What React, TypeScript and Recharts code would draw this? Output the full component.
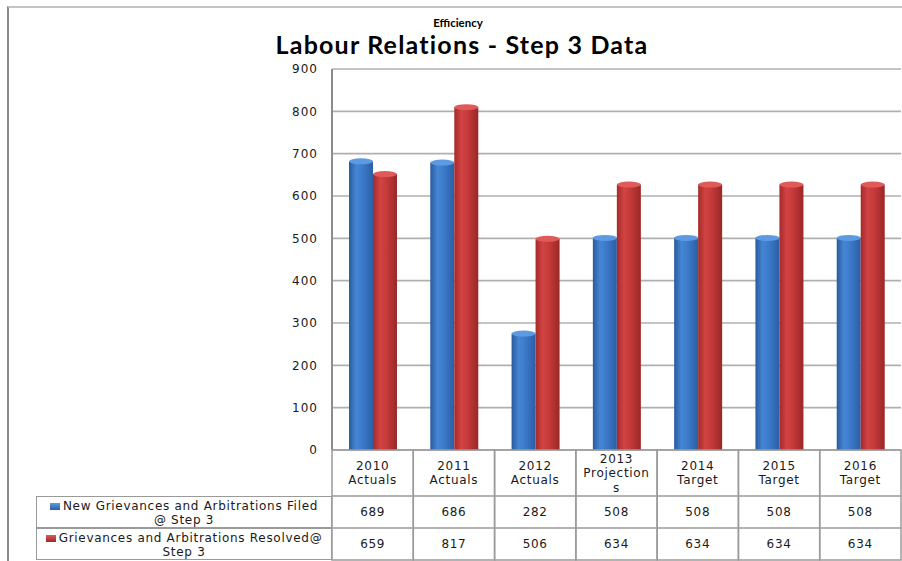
import { Bar, BarChart, CartesianGrid, XAxis, YAxis } from "recharts";

const categories = ["2010 Actuals", "2011 Actuals", "2012 Actuals", "2013 Projections", "2014 Target", "2015 Target", "2016 Target"];
const filed = [689, 686, 282, 508, 508, 508, 508];
const resolved = [659, 817, 506, 634, 634, 634, 634];
const seriesLines = [
  ["New Grievances and Arbitrations Filed", "@ Step 3"],
  ["Grievances and Arbitrations Resolved@", "Step 3"],
];
const yTicks = [0, 100, 200, 300, 400, 500, 600, 700, 800, 900];

const data = categories.map((name, i) => ({ name, filed: filed[i], resolved: resolved[i] }));

const W = 902;
const H = 561;
const AXIS_X = 332;
const RIGHT = 1;
const COL_W = (W - AXIS_X - RIGHT) / categories.length;
const FONT = "'DejaVu Sans', Verdana, sans-serif";
const BORDER = "#9a9a9a";

function wrap(label: string) {
  const out: string[] = [];
  label.split(" ").forEach((w) => {
    for (let i = 0; i < w.length; i += 10) out.push(w.slice(i, i + 10));
  });
  return out;
}

function Cylinder(props: any) {
  const { x, y, width, height, fill, cap } = props;
  if (!height || height <= 0) return null;
  const r = 3;
  return (
    <g>
      <rect x={x} y={y + r} width={width} height={height - r} fill={fill} />
      <ellipse cx={x + width / 2} cy={y + r} rx={width / 2} ry={r} fill={cap} />
    </g>
  );
}

const txt = { fontFamily: FONT, fontSize: 12, letterSpacing: 0.7, fill: "#1a1a1a" };

function TableTick(props: any) {
  const { x, y, payload } = props;
  const i = categories.indexOf(payload.value);
  const left = x - COL_W / 2;
  const lines = wrap(payload.value);
  const lh = 14.5;
  const start = y + 23 - ((lines.length - 1) * lh) / 2;
  return (
    <g>
      <rect x={left} y={y} width={COL_W} height={110} fill="none" stroke={BORDER} strokeWidth={1.5} />
      <line x1={left} x2={left + COL_W} y1={y + 46} y2={y + 46} stroke={BORDER} strokeWidth={1.5} />
      <line x1={left} x2={left + COL_W} y1={y + 78} y2={y + 78} stroke={BORDER} strokeWidth={1.5} />
      {lines.map((l, k) => (
        <text key={k} x={x} y={start + k * lh} textAnchor="middle" dominantBaseline="central" {...txt}>
          {l}
        </text>
      ))}
      <text x={x} y={y + 62} textAnchor="middle" dominantBaseline="central" {...txt}>
        {filed[i]}
      </text>
      <text x={x} y={y + 94} textAnchor="middle" dominantBaseline="central" {...txt}>
        {resolved[i]}
      </text>
    </g>
  );
}

function LegendCell({ top, lines, grad }: { top: number; lines: string[]; grad: string }) {
  return (
    <div
      style={{
        position: "absolute",
        left: 36,
        top,
        width: AXIS_X - 36,
        height: 32,
        boxSizing: "border-box",
        border: `1.5px solid ${BORDER}`,
        fontFamily: FONT,
        fontSize: 12,
        letterSpacing: 0.7,
        lineHeight: "14px",
        textAlign: "center",
        paddingTop: 2,
        color: "#1a1a1a",
        whiteSpace: "nowrap",
      }}
    >
      <div>
        <span style={{ display: "inline-block", width: 10, height: 7, background: grad, marginRight: 3 }} />
        {lines[0]}
      </div>
      <div>{lines[1]}</div>
    </div>
  );
}

export default function App() {
  return (
    <div style={{ position: "absolute", left: 0, top: 0, width: W, height: H, background: "#fff", overflow: "hidden" }}>
      <div style={{ position: "absolute", left: 7, top: 6, right: 0, bottom: 0, borderTop: "2px solid #c4c4c4", borderLeft: "2px solid #8a8a8a" }} />
      <div style={{ position: "absolute", left: 0, top: 16, width: 916, textAlign: "center", fontFamily: "Lato, sans-serif", fontWeight: 700, fontSize: 11.5 }}>
        Efficiency
      </div>
      <div style={{ position: "absolute", left: 0, top: 29, width: 924, textAlign: "center", fontFamily: "Lato, sans-serif", fontWeight: 700, fontSize: 25, letterSpacing: 1.2 }}>
        Labour Relations - Step 3 Data
      </div>
      <BarChart
        width={W}
        height={H}
        data={data}
        margin={{ top: 69, right: RIGHT, bottom: 1, left: 0 }}
        barSize={24}
        barGap={0}
        style={{ position: "absolute", left: 0, top: 0 }}
      >
        <defs>
          <linearGradient id="blueBody" x1="0" y1="0" x2="1" y2="0">
            <stop offset="0%" stopColor="#2a5a9c" />
            <stop offset="30%" stopColor="#4586d4" />
            <stop offset="55%" stopColor="#3c7bc9" />
            <stop offset="100%" stopColor="#2b5ea6" />
          </linearGradient>
          <linearGradient id="redBody" x1="0" y1="0" x2="1" y2="0">
            <stop offset="0%" stopColor="#a52a2a" />
            <stop offset="30%" stopColor="#d24343" />
            <stop offset="55%" stopColor="#c63a3a" />
            <stop offset="100%" stopColor="#9a2727" />
          </linearGradient>
        </defs>
        <CartesianGrid vertical={false} stroke="#b0b0b0" strokeWidth={1.6} />
        <XAxis
          dataKey="name"
          height={110}
          axisLine={false}
          tickLine={false}
          tickSize={0}
          tickMargin={0}
          interval={0}
          tick={<TableTick />}
        />
        <YAxis
          width={AXIS_X}
          domain={[0, 900]}
          ticks={yTicks}
          axisLine={{ stroke: "#8c8c8c", strokeWidth: 2 }}
          tickLine={false}
          tickMargin={8}
          tick={{ fontFamily: FONT, fontSize: 12, letterSpacing: 1, fill: "#1a1a1a" }}
        />
        <Bar dataKey="filed" fill="url(#blueBody)" isAnimationActive={false} shape={<Cylinder cap="#5c9be2" />} />
        <Bar dataKey="resolved" fill="url(#redBody)" isAnimationActive={false} shape={<Cylinder cap="#e05a5a" />} />
      </BarChart>
      <LegendCell top={496} lines={seriesLines[0]} grad="linear-gradient(#5c9be2, #2b5ea6)" />
      <LegendCell top={528} lines={seriesLines[1]} grad="linear-gradient(#e05a5a, #9a2727)" />
    </div>
  );
}
